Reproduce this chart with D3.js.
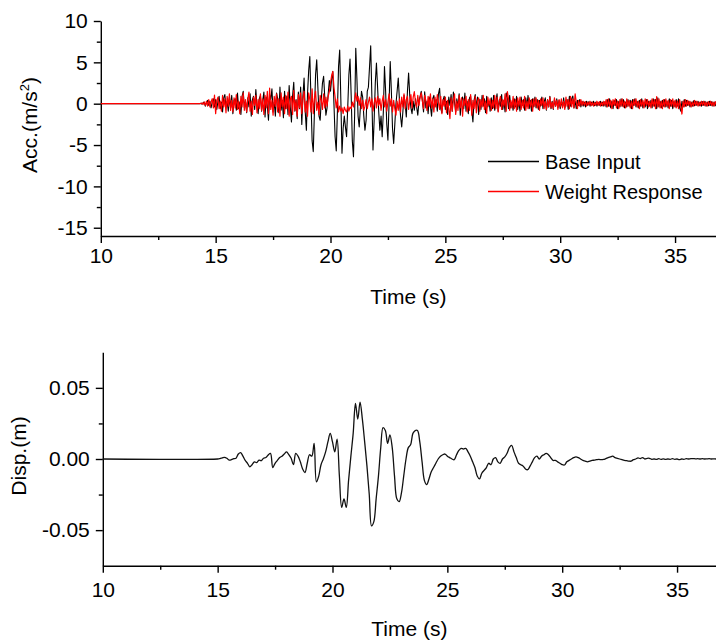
<!DOCTYPE html>
<html>
<head>
<meta charset="utf-8">
<script src="https://cdn.jsdelivr.net/npm/d3@7"></script>
<style>
  body { margin: 0; background: #fff; }
  svg text { font-family: Arial, "Liberation Sans", sans-serif; fill: #000; }
</style>
</head>
<body>
<svg id="chart" width="716" height="641"></svg>
<script>
// record starts quiet (value 0) at 10 s
var recordStart = 10;

// acceleration samples (m/s^2), from 14.0 s every 0.05 s
var accStart = 14.0, accStep = 0.05;

var baseInput = [
  0,0,0,0,0,0,0,0.05,-0.05,0.1, 0.2,-0.3,0.1,0.4,-0.2,0.3,-0.5,0.2,0.6,-0.4,
  0.5,-0.7,0.3,0.9,-0.6,0.2,-1.0,0.7,1.1,-0.4, 0.3,-0.9,0.8,-0.5,1.0,-1.2,0.4,0.6,-0.8,1.3,
  -0.6,0.2,-1.3,0.9,1.5,-0.5,0.3,-1.1,0.7,-0.4, 1.2,-1.5,0.5,0.9,-0.7,1.7,-0.3,-1.2,0.6,1.0,
  -0.9,0.4,1.4,-1.6,0.8,-0.3,-2.0,1.1,0.5,1.8, -1.0,0.2,-1.5,1.3,0.6,-1.1,2.0,-0.8,0.4,-1.7,
  1.5,-0.6,0.9,-1.3,2.2,-0.4,-2.2,1.0,2.6,-0.9, 0.5,-1.8,1.4,-0.6,2.0,-2.5,1.0,3.1,-1.0,-3.2,
  1.2,4.0,5.7,0.5,-4.5,-5.8,-1.0,3.5,5.3,2.0, -1.5,-2.0,0.5,2.5,3.3,0.8,-1.4,-0.5,1.2,2.8,
  1.5,3.0,3.9,0.0,-4.0,-5.7,-1.0,4.5,6.5,0.5, -6.0,-3.0,-1.5,-2.8,-4.0,-0.5,3.5,5.4,1.0,-4.5,
  -6.4,-1.5,6.7,3.0,-1.5,-2.8,-0.5,1.5,0.8,-1.5, -3.2,-2.0,1.5,2.0,4.5,7.0,1.0,-5.6,-2.0,2.5,
  4.9,2.0,-1.0,-3.2,-1.5,-4.0,-1.0,4.5,1.5,-2.5, -4.4,0.0,5.1,1.5,-3.0,-4.8,-2.5,0.0,1.5,3.1,
  0.5,-1.5,-2.8,-1.0,1.0,0.0,-1.6,1.5,3.7,1.0, -0.5,-1.2,0.3,-0.8,0.6,-0.4,-1.4,0.2,0.9,1.5,
  0.4,-1.0,1.45,-0.5,0.3,-1.2,0.8,-0.3,-1.5,0.6, 1.0,-0.4,0.5,-0.9,1.2,1.85,-0.6,-1.1,0.4,0.9,
  -0.7,0.3,-1.3,0.8,-0.2,1.1,-0.9,1.4,0.2,-1.0, 0.6,-0.4,1.2,-1.4,0.5,0.8,-0.6,1.3,-0.9,0.3,
  -1.2,0.7,0.9,-0.8,-2.2,0.4,1.1,-0.5,0.8,-1.3, 0.5,-0.7,1.0,-0.3,0.6,-1.1,0.9,-0.4,0.3,-0.9,
  0.7,-0.6,1.0,-0.8,0.3,1.2,-0.9,0.5,-0.3,1.1, -0.7,0.4,-1.0,1.3,0.8,-0.6,1.0,-0.5,0.2,-0.8,
  0.6,-0.4,0.9,-0.7,0.3,-0.9,0.8,-0.2,0.5,-0.8, 0.7,-0.3,1.0,-0.6,0.4,-0.9,0.6,-0.4,0.8,-0.5,
  0.5,-0.7,0.4,-0.3,0.8,-0.6,0.2,0.7,-0.8,0.5, -0.4,0.9,-0.6,0.3,-0.7,0.5,-0.3,0.6,-0.5,0.4,
  -0.6,0.3,-0.4,0.7,-0.5,0.2,0.5,-0.7,0.9,-0.3, 0.6,0.93,-0.5,0.3,-0.6,0.4,-0.2,0.5,-0.4,0.3,
  -0.3,0.2,-0.4,0.3,-0.2,0.25,-0.3,0.2,-0.15,0.3, -0.25,0.2,-0.3,0.15,-0.2,0.3,-0.25,0.2,-0.3,0.25,
  -0.4,0.5,-0.3,0.6,-0.5,0.3,-0.6,0.4,-0.2,0.5, -0.6,0.3,-0.4,0.6,-0.3,0.5,-0.5,0.2,-0.4,0.5,
  -0.3,0.4,-0.6,0.5,-0.2,0.6,-0.4,0.3,-0.5,0.4, -0.3,0.6,-0.5,0.2,-0.4,0.5,-0.6,0.3,-0.3,0.4,
  -0.5,0.6,-0.3,0.5,-0.6,0.7,-0.4,0.3,-0.5,0.4, -0.3,0.5,-0.4,0.3,-0.5,0.6,-0.3,0.4,-0.6,0.3,
  -0.4,0.5,-0.3,0.6,-0.5,-0.9,0.3,-0.4,0.5,-0.3, 0.4,-0.2,0.3,-0.4,0.2,-0.3,0.35,-0.25,0.3,-0.2,
  0.3,-0.25,0.2,-0.3,0.25,-0.2,0.3,-0.3,0.2,-0.25, 0.3,-0.2,0.25,-0.3,0.2,-0.25,0.3
];

var weightResponse = [
  0,0,0,0,0,0,0,0,0.1,-0.1, 0.2,-0.2,0.3,-0.3,0.5,-0.4,0.2,0.6,-0.5,1.05,
  -1.2,0.4,0.8,-0.6,0.3,-0.9,1.0,-0.4,0.6,-1.1, 0.9,-0.3,1.2,-0.8,0.4,-1.0,0.7,-0.5,1.1,-0.7,
  0.3,-1.2,0.9,-0.4,1.3,-0.8,0.5,-1.0,0.6,1.4, -0.9,0.3,-1.3,0.8,-0.2,1.0,-1.1,0.5,-0.6,1.2,
  -0.8,0.6,-1.3,1.0,-0.5,1.5,-1.2,1.9,-0.7,0.4, -1.4,0.9,-0.3,1.2,-1.0,0.6,-1.5,1.3,-0.4,0.8,
  -1.2,1.0,-0.6,1.4,-1.5,0.5,0.9,-1.3,1.6,-0.8, 0.4,-1.5,1.1,-0.5,1.3,-1.2,0.6,1.5,-1.0,0.3,
  -1.5,1.3,0.5,-1.0,1.8,-1.2,0.6,1.5,-0.8,0.2, -1.3,1.0,0.4,-0.7,1.2,-0.5,0.8,-0.3,0.9,1.5,
  2.5,3.4,3.9,2.0,0.8,-0.5,0.6,-1.0,-0.3,-0.9, -0.5,-1.2,-0.4,-0.8,-1.0,-0.3,-0.9,-0.4,-0.6,0.2,
  -0.4,0.5,1.3,0.3,0.9,-0.2,0.7,-0.6,0.4,-0.8, -0.3,0.5,-0.6,0.2,0.8,-0.4,0.6,-0.9,0.1,0.7,
  -0.5,0.9,-0.2,0.6,-0.8,0.3,1.0,-0.4,0.5,-0.9, 0.2,1.2,-0.3,0.6,-1.0,0.4,-0.6,-1.4,0.3,-0.8,
  0.6,-1.0,0.8,-0.4,1.2,-0.6,0.5,0.9,-0.7,0.3, 1.1,-0.5,0.8,1.45,0.2,-0.4,1.0,-0.2,0.7,1.3,
  0.3,-0.6,1.0,0.4,-0.8,0.9,-0.3,1.2,-0.5,0.6, -1.0,0.8,-0.4,1.1,0.2,-0.7,0.9,-1.2,0.5,-0.3,
  0.8,-1.1,0.4,-0.6,-1.8,0.7,-0.9,0.5,1.2,-1.3, 0.3,-0.8,1.0,-0.5,0.7,-1.5,0.6,-0.2,0.9,-1.0,
  0.5,-0.8,1.1,-1.4,0.4,-0.6,0.9,-1.1,0.3,0.7, -0.9,0.5,-0.4,1.0,-0.7,0.3,-1.2,0.8,-0.2,0.6,
  -0.8,0.4,-0.5,1.0,-0.6,0.8,-1.0,0.3,0.9,-0.7, 0.5,-0.3,1.2,-0.9,1.45,0.6,-0.8,0.4,-0.5,0.9,
  -0.6,0.5,-0.9,0.7,-0.3,0.8,-0.7,0.4,-0.5,0.9, -0.8,0.3,-0.6,0.7,-0.4,0.5,-0.9,0.6,-0.3,0.7,
  -0.5,0.4,-0.8,0.6,-0.2,0.7,-0.6,0.3,-0.7,0.5, -0.4,0.8,-0.5,0.2,-0.6,0.7,-0.3,0.4,-0.7,0.5,
  -0.4,0.6,-0.5,0.3,-0.7,0.8,-0.3,0.5,-0.6,0.9, -0.4,0.6,-0.5,1.2,0.2,-0.6,0.4,-0.3,0.5,-0.2,
  0.3,-0.2,0.25,-0.3,0.2,-0.15,0.3,-0.25,0.2,-0.3, 0.15,-0.2,0.3,-0.2,0.25,-0.3,0.2,-0.25,0.3,-0.2,
  0.5,-0.4,0.6,-0.3,0.4,-0.6,0.5,-0.2,0.6,-0.5, 0.3,-0.6,0.5,-0.3,0.6,-0.4,0.3,-0.5,0.6,-0.3,
  0.4,-0.5,0.3,-0.6,0.5,-0.2,0.6,-0.4,0.3,-0.6, 0.5,-0.3,0.4,-0.5,0.6,-0.2,0.5,-0.4,0.3,-0.5,
  0.6,-0.3,0.5,-0.6,0.85,-0.4,0.6,-0.5,0.3,-0.6, 0.5,-0.4,0.6,-0.3,0.4,-0.6,0.5,-0.3,0.6,-0.4,
  0.4,-0.5,0.3,-0.6,0.5,-0.4,-1.25,0.3,-0.4,0.5, -0.3,0.4,-0.2,0.3,-0.4,0.2,-0.3,0.4,-0.2,0.3,
  -0.3,0.2,-0.25,0.3,-0.2,0.3,-0.25,0.2,-0.3,0.25, -0.2,0.3,-0.25,0.2,-0.3,0.25,-0.2
];

// displacement samples (m), from 15.0 s every 0.1 s
var dispStart = 15.0, dispStep = 0.1;

var displacement = [
  0,0.0003,0.0008,0.0012,0.0005,-0.0008,-0.0005,0.0002,0.0006,0.0035,
  0.0045,0.002,-0.001,-0.003,-0.0055,-0.004,-0.002,-0.0025,-0.0008,-0.0012,
  0.0005,0.001,0.0028,0.004,-0.006,-0.003,-0.001,0.001,0.002,0.0035,
  0.005,0.003,0.0005,-0.004,0.004,0.002,-0.002,-0.007,-0.0095,-0.003,
  0.003,0.002,0.011,-0.016,-0.012,-0.004,0.0,0.005,0.012,0.018,
  0.012,0.005,0.014,-0.012,-0.034,-0.028,-0.034,-0.015,0.002,0.018,
  0.039,0.028,0.040,0.028,0.012,-0.005,-0.025,-0.047,-0.044,-0.028,
  -0.012,0.008,0.022,0.02,0.011,0.017,0.008,-0.012,-0.028,-0.030,
  -0.024,-0.012,0.0,0.008,0.01,0.018,0.02,0.02,0.012,-0.002,
  -0.015,-0.018,-0.014,-0.009,-0.006,-0.003,0.0,0.002,0.003,0.0035,
  0.002,0.001,0.0,-0.0005,0.003,0.006,0.0075,0.007,0.0075,0.005,
  0.002,-0.002,-0.006,-0.012,-0.014,-0.010,-0.008,-0.006,-0.003,-0.004,
  0.0,0.001,-0.002,-0.003,0.0,0.0015,0.004,0.008,0.0095,0.005,
  0.001,-0.003,-0.004,-0.005,-0.007,-0.0075,-0.005,-0.002,0.001,0.002,
  0.0,0.002,0.003,0.004,0.003,0.001,-0.001,-0.001,-0.002,-0.003,
  -0.004,-0.0042,-0.002,-0.001,0.0,0.001,0.0015,0.001,0.0,-0.001,
  -0.0015,-0.002,-0.0015,-0.001,-0.0008,-0.0005,-0.0003,-0.0005,-0.0003,0.0003,
  0.001,0.0015,0.002,0.001,0.0005,0.0,-0.0005,-0.001,-0.0012,-0.0015,
  -0.0015,-0.0005,0.0,0.0008,0.0003,0.001,0.0,0.0005,0.0005,-0.0002,
  0.0,-0.0003,0.0002,-0.0002,0.0001,-0.0003,0.0,-0.0002,0.0002,-0.0002,
  0.0,-0.0004,0.0,-0.0002,0.0002,0.0,0.0002,0.0003,0.0001,0.0002,
  0.0,0.0002,0.0,0.0001,0.0002,0.0,0.0001,0.0,0.0001
];

// axis ticks
var timeTicks = [10, 15, 20, 25, 30, 35];
var timeMinor = [12.5, 17.5, 22.5, 27.5, 32.5];
var accTicks = [-15, -10, -5, 0, 5, 10];
var accMinor = [-12.5, -7.5, -2.5, 2.5, 7.5];
var dispTicks = [-0.05, 0, 0.05];
var dispMinor = [-0.025, 0.025];
var legendLabels = ["Base Input", "Weight Response"];
var seriesColors = ["#000000", "#ff0000"];

var svg = d3.select("#chart");
var fontSize = 21;

function toPoints(values, start, step) {
    var pts = [{ t: recordStart, v: 0 }];
    values.forEach(function (v, i) {
        pts.push({ t: +(start + i * step).toFixed(3), v: v });
    });
    return pts;
}

function styleAxis(g) {
    g.select(".domain").attr("stroke", "#000").attr("stroke-width", 1.4);
    g.selectAll(".tick line").attr("stroke", "#000").attr("stroke-width", 1.4);
    g.selectAll(".tick text").attr("font-size", fontSize).attr("font-family", "Arial, 'Liberation Sans', sans-serif");
}

// draws one panel: x/y axes with major + minor ticks, returns scales
function drawPanel(opt) {
    var x = d3.scaleLinear().domain([10, 36.8]).range([opt.left, opt.left + 615.6]);
    var y = d3.scaleLinear().domain(opt.yDomain).range([opt.bottom, opt.top]);

    var gx = svg.append("g").attr("transform", "translate(0," + opt.bottom + ")");
    gx.call(d3.axisBottom(x).tickValues(timeTicks).tickSize(7).tickSizeOuter(0).tickPadding(opt.xPad)
        .tickFormat(function (d) { return String(d); }));
    styleAxis(gx);
    var gxm = svg.append("g").attr("transform", "translate(0," + opt.bottom + ")");
    gxm.call(d3.axisBottom(x).tickValues(timeMinor).tickSize(4).tickSizeOuter(0).tickFormat(""));
    styleAxis(gxm);
    gxm.select(".domain").remove();

    var gy = svg.append("g").attr("transform", "translate(" + opt.left + ",0)");
    gy.call(d3.axisLeft(y).tickValues(opt.yTicks).tickSize(7).tickSizeOuter(0).tickPadding(6).tickFormat(opt.yFormat));
    styleAxis(gy);
    var gym = svg.append("g").attr("transform", "translate(" + opt.left + ",0)");
    gym.call(d3.axisLeft(y).tickValues(opt.yMinor).tickSize(4).tickSizeOuter(0).tickFormat(""));
    styleAxis(gym);
    gym.select(".domain").remove();

    svg.append("text")
        .attr("x", (opt.left + 716) / 2)
        .attr("y", opt.xTitleY)
        .attr("text-anchor", "middle")
        .attr("font-size", fontSize)
        .text("Time (s)");

    return { x: x, y: y };
}

// ---- top panel: acceleration ----
var accPanel = drawPanel({
    left: 100.8, top: 21, bottom: 236, xPad: 5,
    yDomain: [-16, 10], yTicks: accTicks, yMinor: accMinor,
    yFormat: function (d) { return String(d); }, xTitleY: 304
});

var accTitle = svg.append("text")
    .attr("transform", "translate(37,125) rotate(-90)")
    .attr("text-anchor", "middle")
    .attr("font-size", fontSize);
accTitle.append("tspan").text("Acc.(m/s");
accTitle.append("tspan").attr("font-size", 13).attr("dy", -8).text("2");
accTitle.append("tspan").attr("dy", 8).text(")");

var accLine = d3.line()
    .x(function (d) { return accPanel.x(d.t); })
    .y(function (d) { return accPanel.y(d.v); });

[baseInput, weightResponse].forEach(function (series, i) {
    svg.append("path")
        .datum(toPoints(series, accStart, accStep))
        .attr("fill", "none")
        .attr("stroke", seriesColors[i])
        .attr("stroke-width", i === 0 ? 1.1 : 1.2)
        .attr("stroke-linejoin", "round")
        .attr("d", accLine);
});

// legend
var legend = svg.append("g");
legendLabels.forEach(function (label, i) {
    var ly = 161.5 + i * 30;
    legend.append("line")
        .attr("x1", 488).attr("x2", 539)
        .attr("y1", ly).attr("y2", ly)
        .attr("stroke", seriesColors[i])
        .attr("stroke-width", 1.3);
    legend.append("text")
        .attr("x", 545).attr("y", ly)
        .attr("dy", "0.35em")
        .attr("font-size", 20)
        .text(label);
});

// ---- bottom panel: displacement ----
var dispPanel = drawPanel({
    left: 102.8, top: 352.3, bottom: 565.7, xPad: 9,
    yDomain: [-0.075, 0.075], yTicks: dispTicks, yMinor: dispMinor,
    yFormat: function (d) { return d.toFixed(2); }, xTitleY: 636
});

svg.append("text")
    .attr("transform", "translate(26,456) rotate(-90)")
    .attr("text-anchor", "middle")
    .attr("font-size", fontSize)
    .text("Disp.(m)");

var dispLine = d3.line()
    .curve(d3.curveCatmullRom.alpha(0.5))
    .x(function (d) { return dispPanel.x(d.t); })
    .y(function (d) { return dispPanel.y(d.v); });

svg.append("path")
    .datum(toPoints(displacement, dispStart, dispStep))
    .attr("fill", "none")
    .attr("stroke", "#111")
    .attr("stroke-width", 1.3)
    .attr("d", dispLine);
</script>
</body>
</html>
